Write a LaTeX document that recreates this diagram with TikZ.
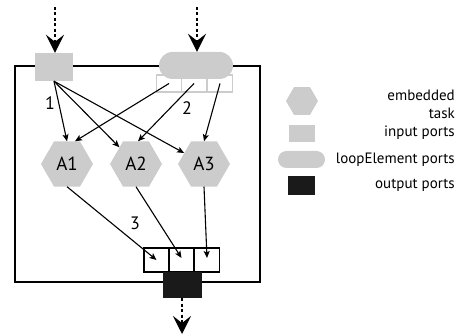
\documentclass[tikz,border=0pt]{standalone}
\usepackage{fontspec}
\setmainfont{PT Sans}
\usetikzlibrary{arrows.meta,shapes.geometric,shapes.misc}
\definecolor{portgray}{HTML}{CCCCCC}
\definecolor{outblack}{HTML}{1A1A1A}
\begin{document}
\begin{tikzpicture}[x=1pt,y=-1pt,
  hexa/.style={regular polygon,regular polygon sides=6,fill=portgray,inner sep=0pt,minimum size=#1},
  inport/.style={rectangle,fill=portgray,inner sep=0pt},
  looppill/.style={rounded rectangle,fill=portgray,inner sep=0pt},
  loopbox/.style={rectangle,draw=portgray,line width=1.4pt,minimum width=25pt,minimum height=17pt,inner sep=0pt},
  outbox/.style={rectangle,draw=black,line width=1.4pt,minimum width=25pt,minimum height=24pt,inner sep=0pt},
  outport/.style={rectangle,fill=outblack,inner sep=0pt},
  conn/.style={line width=1.1pt,-{Stealth[length=7pt,width=6pt,inset=1.5pt]}},
  flow/.style={line width=2pt,dash pattern=on 3pt off 2.5pt,-{Stealth[length=18pt,width=18pt,inset=7pt]}},
  lbl/.style={font=\fontsize{18}{20}\selectfont,inner sep=0pt},
  leg/.style={font=\fontsize{15}{18}\selectfont,inner sep=0pt,anchor=east,align=right}]
\useasboundingbox (0,0) rectangle (463,336);
% outer box
\node[draw,line width=2pt,minimum width=245pt,minimum height=216pt,inner sep=0pt] (outer) at (137.5,174) {};
% loop element boxes
\node[loopbox] (l1) at (169,83.5) {};
\node[loopbox] (l2) at (194,83.5) {};
\node[loopbox] (l3) at (220,83.5) {};
% ports
\node[inport,minimum width=38pt,minimum height=28pt] (inp) at (54,67) {};
\node[looppill,minimum width=74pt,minimum height=27pt] (loop) at (196,65.5) {};
% hexagons
\node[hexa=52pt,font=\fontsize{19}{20}\selectfont] (a1) at (67,164) {A1};
\node[hexa=52pt,font=\fontsize{19}{20}\selectfont] (a2) at (136,164) {A2};
\node[hexa=52pt,font=\fontsize{19}{20}\selectfont] (a3) at (204,164) {A3};
% output boxes
\node[outbox] (o1) at (156.5,260) {};
\node[outbox] (o2) at (181.5,260) {};
\node[outbox] (o3) at (207,260) {};
\node[outport,minimum width=39pt,minimum height=26pt] (outp) at (182.5,285) {};
% flow arrows
\coordinate (tin) at (55,7);
\coordinate (tloop) at (197,7);
\coordinate (tout) at (182,334);
\draw[flow] (tin) -- (inp.north -| tin);
\draw[flow] (tloop) -- (loop.north -| tloop);
\draw[flow] (outp.south -| tout) -- (tout);
% connectors
\draw[conn] (inp.south) -- (a1.north);
\draw[conn] (inp.south) -- (a2);
\draw[conn] (inp.south) -- (a3);
\draw[conn] (l1.center) -- ([xshift=8pt]a1.north);
\draw[conn] (l2.center) -- ([xshift=2pt]a2.north);
\draw[conn] (l3.center) -- (a3.north);
\draw[conn] (a1.south) -- (o1.center);
\draw[conn] (a2.south) -- ([yshift=2pt]o2.center);
\draw[conn] (a3.south) -- ([yshift=2pt]o3.center);
% labels
\node[lbl] (n1) at (50,103) {1};
\node[lbl] (n2) at (187,108) {2};
\node[lbl] (n3) at (135,223) {3};
% legend
\node[hexa=32pt] (lh) at (302,101) {};
\node[inport,minimum width=26pt,minimum height=17pt] (li) at (302,133.5) {};
\node[looppill,minimum width=47pt,minimum height=17pt] (ll) at (301.5,159.5) {};
\node[outport,minimum width=27pt,minimum height=19pt] (lo) at (301.5,185.5) {};
\node[leg] (t1) at (455,104) {embedded\\task};
\node[leg] (t2) at (455,133) {input ports};
\node[leg] (t3) at (455,160) {loopElement ports};
\node[leg] (t4) at (455,185) {output ports};
\end{tikzpicture}
\end{document}
